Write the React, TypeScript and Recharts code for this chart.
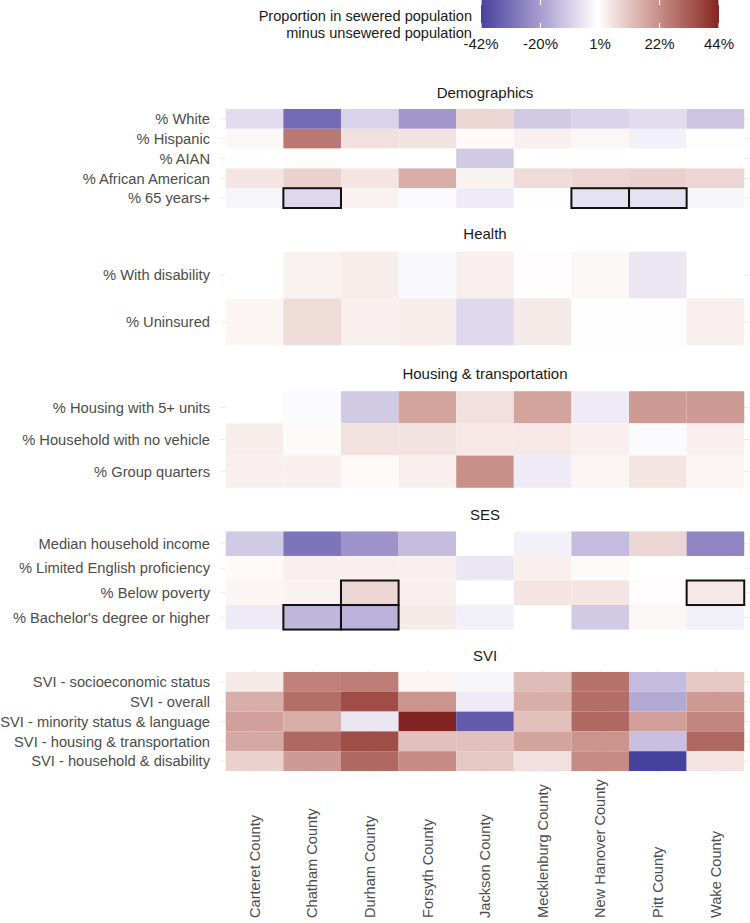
import React from "react";
import { ScatterChart, Scatter, XAxis, YAxis, CartesianGrid } from "recharts";

const counties = [
  "Carteret County",
  "Chatham County",
  "Durham County",
  "Forsyth County",
  "Jackson County",
  "Mecklenburg County",
  "New Hanover County",
  "Pitt County",
  "Wake County",
];

// values = sewered minus unsewered, in percentage points, one entry per county
const demoRows = ["% White", "% Hispanic", "% AIAN", "% African American", "% 65 years+"];
const demoValues = [
  [-7, -32, -9, -22, 8, -11, -9, -7, -12],
  [1.5, 27, 6, 5.5, 1, 3, 1.5, -3, 0.5],
  [0, 0.5, 0, 0, -11, 0, 0, 0, 0],
  [5, 9, 5, 16, 2.5, 7, 8, 9, 8],
  [-2, -8, 2.5, -1, -4, -0.5, -6, -6, -2],
];
const demoOutlines = [
  ["% 65 years+", "Chatham County"],
  ["% 65 years+", "New Hanover County"],
  ["% 65 years+", "Pitt County"],
];

const healthRows = ["% With disability", "% Uninsured"];
const healthValues = [
  [0, 2.5, 3.5, -1.5, 3, 0.5, 1.5, -5, 0],
  [2, 7, 3, 3.5, -8, 4, 0.3, 0.3, 3],
];

const housingRows = ["% Housing with 5+ units", "% Household with no vehicle", "% Group quarters"];
const housingValues = [
  [0, -1, -11, 18, 6, 18, -4, 20, 20],
  [3.5, 1, 5.5, 5.5, 4.5, 4.5, 3, -1, 3],
  [3, 3, 1, 3, 22, -4, 2, 5, 2],
];

const sesRows = [
  "Median household income",
  "% Limited English proficiency",
  "% Below poverty",
  "% Bachelor's degree or higher",
];
const sesValues = [
  [-11, -30, -23, -14, 0, -3, -14, 8, -26],
  [1, 3, 3, 3, -5, 3, 1, 0, 0],
  [2, 2.5, 8, 3, 0, 5, 5, 0.5, 4.5],
  [-4, -15, -16, 4, -3, 0, -11, 1.5, -3],
];
const sesOutlines = [
  ["% Below poverty", "Durham County"],
  ["% Below poverty", "Wake County"],
  ["% Bachelor's degree or higher", "Chatham County"],
  ["% Bachelor's degree or higher", "Durham County"],
];

const sviRows = [
  "SVI - socioeconomic status",
  "SVI - overall",
  "SVI - minority status & language",
  "SVI - housing & transportation",
  "SVI - household & disability",
];
const sviValues = [
  [4, 25, 26, 2, -2, 13, 28, -14, 11],
  [16, 29, 36, 21, -4, 16, 29, -18, 20],
  [19, 16, -5, 44, -36, 12, 30, 19, 24],
  [17, 30, 36, 12, 12, 18, 21, -13, 30],
  [9, 20, 30, 23, 11, 6, 23, -42, 5],
];

const legendBreaks = [-42, -20.5, 1, 22.5, 44];
const legendLabels = ["-42%", "-20%", "1%", "22%", "44%"];

const facets = [
  { title: "Demographics", rows: demoRows, values: demoValues, outlines: demoOutlines },
  { title: "Health", rows: healthRows, values: healthValues, outlines: [] as string[][] },
  { title: "Housing & transportation", rows: housingRows, values: housingValues, outlines: [] as string[][] },
  { title: "SES", rows: sesRows, values: sesValues, outlines: sesOutlines },
  { title: "SVI", rows: sviRows, values: sviValues, outlines: [] as string[][] },
];

// ---- diverging palette (ggplot scale_fill_gradient2 defaults, Lab interpolation)
const LOW = "#3A3A98";
const HIGH = "#832424";

const hexRgb = (h: string) => [1, 3, 5].map((i) => parseInt(h.slice(i, i + 2), 16) / 255);
const toLin = (c: number) => (c <= 0.04045 ? c / 12.92 : Math.pow((c + 0.055) / 1.055, 2.4));
const fromLin = (c: number) => (c <= 0.0031308 ? 12.92 * c : 1.055 * Math.pow(c, 1 / 2.4) - 0.055);
const WN = [0.95047, 1, 1.08883];

function toLab(hex: string) {
  const [r, g, b] = hexRgb(hex).map(toLin);
  const xyz = [
    0.4124564 * r + 0.3575761 * g + 0.1804375 * b,
    0.2126729 * r + 0.7151522 * g + 0.072175 * b,
    0.0193339 * r + 0.119192 * g + 0.9503041 * b,
  ];
  const f = xyz.map((t, i) => {
    const v = t / WN[i];
    return v > 0.008856 ? Math.cbrt(v) : 7.787 * v + 16 / 116;
  });
  return [116 * f[1] - 16, 500 * (f[0] - f[1]), 200 * (f[1] - f[2])];
}

function fromLab([L, a, b]: number[]) {
  const fy = (L + 16) / 116;
  const fs = [fy + a / 500, fy, fy - b / 200];
  const [X, Y, Z] = fs.map((t, i) => {
    const t3 = t * t * t;
    return WN[i] * (t3 > 0.008856 ? t3 : (t - 16 / 116) / 7.787);
  });
  const rgb = [
    3.2404542 * X - 1.5371385 * Y - 0.4985314 * Z,
    -0.969266 * X + 1.8760108 * Y + 0.041556 * Z,
    0.0556434 * X - 0.2040259 * Y + 1.0572252 * Z,
  ];
  return (
    "rgb(" +
    rgb.map((c) => Math.round(Math.min(1, Math.max(0, fromLin(c))) * 255)).join(",") +
    ")"
  );
}

const labLow = toLab(LOW);
const labMid = toLab("#FFFFFF");
const labHigh = toLab(HIGH);
const allValues = facets.flatMap((f) => f.values.flat());
const maxAbs = Math.max(...allValues.map(Math.abs));

function fillFor(v: number) {
  const t = Math.min(1, Math.abs(v) / maxAbs);
  const end = v < 0 ? labLow : labHigh;
  return fromLab(labMid.map((m, i) => m + (end[i] - m) * t));
}

// ---- layout
const W = 750;
const AXIS_W = 220;
const PLOT_W = W - AXIS_W;
const PANEL_H = 103;
const PANEL_TOP = 106.5;
const PANEL_STEP = 140.8;
const STRIP = 30;
const BOTTOM_AXIS = 150;
const N_COL = counties.length;
const colIdx = counties.map((_, i) => i);

const textCol = "#4d4d4d";
const FONT = "'Liberation Sans', Arial, sans-serif";
const FS = 15;

function XTick(props: any) {
  const { x, y, payload } = props;
  return (
    <text
      transform={`translate(${x}, ${y + 137}) rotate(-90)`}
      textAnchor="start"
      dy="0.35em"
      fill={textCol}
      fontSize={14.6}
      fontFamily={FONT}
    >
      {counties[payload.value]}
    </text>
  );
}

function Facet({ facet, index, last }: { facet: (typeof facets)[number]; index: number; last: boolean }) {
  const n = facet.rows.length;
  const cellW = PLOT_W / (N_COL + 0.2);
  const cellH = PANEL_H / (n + 0.2);
  const cells = facet.values.flatMap((row, r) => row.map((v, c) => ({ x: c, y: r, v })));
  const boxes = facet.outlines.map(([row, county]) => ({
    x: counties.indexOf(county),
    y: facet.rows.indexOf(row),
  }));
  const top = PANEL_TOP + PANEL_STEP * index;
  const height = STRIP + PANEL_H + (last ? BOTTOM_AXIS : 0);

  return (
    <div style={{ position: "absolute", left: 0, top: top - STRIP }}>
      <ScatterChart width={W} height={height} margin={{ top: STRIP, right: 0, bottom: 0, left: 0 }}>
        <CartesianGrid stroke="#ebebeb" strokeWidth={1} syncWithTicks />
        <XAxis
          type="number"
          dataKey="x"
          domain={[-0.6, N_COL - 0.4]}
          ticks={colIdx}
          interval={0}
          axisLine={false}
          tickLine={false}
          height={last ? BOTTOM_AXIS : 0}
          tick={last ? <XTick /> : false}
        />
        <YAxis
          type="number"
          dataKey="y"
          reversed
          domain={[-0.6, n - 0.4]}
          ticks={facet.rows.map((_, i) => i)}
          interval={0}
          width={AXIS_W}
          axisLine={false}
          tickLine={false}
          tickSize={6}
          tickMargin={4}
          tickFormatter={(i: number) => facet.rows[i]}
          tick={{ fill: textCol, fontSize: 14.7, fontFamily: FONT }}
        />
        <Scatter
          data={cells}
          isAnimationActive={false}
          shape={(p: any) => (
            <rect
              x={p.cx - cellW / 2}
              y={p.cy - cellH / 2}
              width={cellW}
              height={cellH}
              fill={fillFor(p.payload.v)}
            />
          )}
        />
        <Scatter
          data={boxes}
          isAnimationActive={false}
          shape={(p: any) => (
            <rect
              x={p.cx - cellW / 2}
              y={p.cy - cellH / 2}
              width={cellW}
              height={cellH}
              fill="none"
              stroke="#111"
              strokeWidth={2}
            />
          )}
        />
      </ScatterChart>
    </div>
  );
}

function Overlay() {
  const barX0 = 481;
  const barX1 = 719;
  const [lo, hi] = [legendBreaks[0], legendBreaks[legendBreaks.length - 1]];
  const px = (v: number) => barX0 + ((v - lo) / (hi - lo)) * (barX1 - barX0);
  const stops = Array.from({ length: 44 }, (_, i) => lo + ((hi - lo) * i) / 43);
  return (
    <svg width={W} height={923} style={{ position: "absolute", left: 0, top: 0, pointerEvents: "none" }}>
      <defs>
        <linearGradient id="bar" x1="0" x2="1" y1="0" y2="0">
          {stops.map((v, i) => (
            <stop key={i} offset={i / 43} stopColor={fillFor(v)} />
          ))}
        </linearGradient>
      </defs>
      <rect x={barX0} y={0} width={barX1 - barX0} height={28} fill="url(#bar)" />
      {legendBreaks.map((b, i) => (
        <g key={i}>
          <line x1={px(b)} x2={px(b)} y1={0} y2={5} stroke="#fff" strokeWidth={1.2} />
          <line x1={px(b)} x2={px(b)} y1={23} y2={28} stroke="#fff" strokeWidth={1.2} />
          <text x={px(b)} y={48.5} textAnchor="middle" fontSize={FS} fontFamily={FONT} fill="#1a1a1a">
            {legendLabels[i]}
          </text>
        </g>
      ))}
      <text x={472} y={21} textAnchor="end" fontSize={14.6} fontFamily={FONT} fill="#1a1a1a">
        Proportion in sewered population
      </text>
      <text x={472} y={37.5} textAnchor="end" fontSize={14.6} fontFamily={FONT} fill="#1a1a1a">
        minus unsewered population
      </text>
      {facets.map((f, i) => (
        <text
          key={f.title}
          x={AXIS_W + PLOT_W / 2}
          y={PANEL_TOP + PANEL_STEP * i - 14}
          dy="0.35em"
          textAnchor="middle"
          fontSize={FS}
          fontFamily={FONT}
          fill="#1a1a1a"
        >
          {f.title}
        </text>
      ))}
    </svg>
  );
}

export default function App() {
  return (
    <div
      style={{
        position: "absolute",
        left: 0,
        top: 0,
        width: W,
        height: 923,
        background: "#fff",
        fontFamily: FONT,
      }}
    >
      {facets.map((f, i) => (
        <Facet key={f.title} facet={f} index={i} last={i === facets.length - 1} />
      ))}
      <Overlay />
    </div>
  );
}
